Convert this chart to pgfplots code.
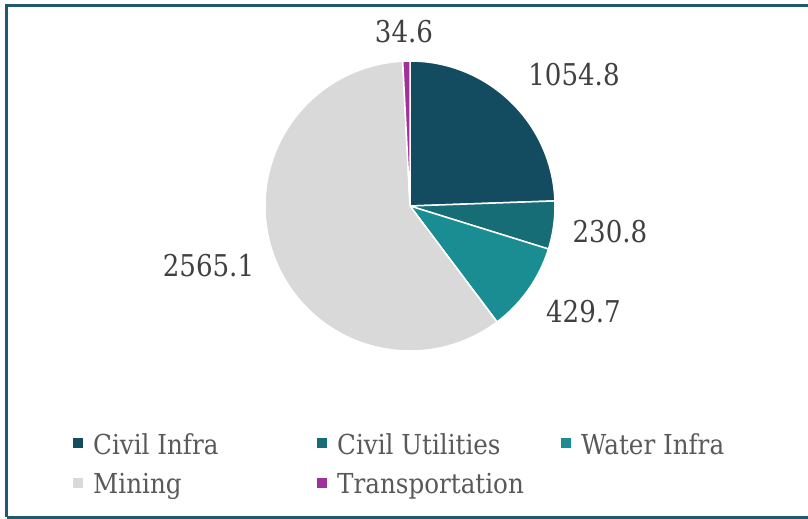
\documentclass[border=0pt]{standalone}
\usepackage{pgfplots}
\pgfplotsset{compat=1.18}
\usepackage{pgfplotstable}
\usepackage{fontspec}
\setmainfont{DejaVu Serif}[FakeStretch=0.87]
\newfontfamily\legfont{DejaVu Serif}[FakeStretch=0.895]

\definecolor{cA}{HTML}{134B61}
\definecolor{cB}{HTML}{166D75}
\definecolor{cC}{HTML}{1A8D93}
\definecolor{cD}{HTML}{D9D9D9}
\definecolor{cE}{HTML}{A0309A}
\definecolor{framec}{HTML}{1E5A6E}
\definecolor{lblc}{HTML}{404040}
\definecolor{legc}{HTML}{595959}

% name, value, slice colour, label centre (pixel x, pixel y from top)
\pgfplotstableread[col sep=comma]{
name,value,color,lx,ly
Civil Infra,1054.8,cA,574,75
Civil Utilities,230.8,cB,610,232
Water Infra,429.7,cC,583.5,311.5
Mining,2565.1,cD,208.5,266
Transportation,34.6,cE,404,32
}\piedata

\begin{document}
\begin{tikzpicture}
\useasboundingbox (0,0) rectangle (808pt,519pt);
% cumulative sums -> angles (clockwise from 12 o'clock)
\def\cum{0}
\pgfplotsforeachungrouped \i in {0,...,4}{%
  \pgfplotstablegetelem{\i}{value}\of\piedata
  \pgfmathsetmacro{\cum}{\cum+\pgfplotsretval}%
}%
\let\total\cum
\def\cum{0}
\pgfplotsforeachungrouped \i in {0,...,4}{%
  \pgfplotstablegetelem{\i}{value}\of\piedata
  \expandafter\xdef\csname pieV\i\endcsname{\pgfplotsretval}%
  \pgfmathsetmacro{\s}{90-360*(\cum/\total)}%
  \pgfmathsetmacro{\cum}{\cum+\pgfplotsretval}%
  \pgfmathsetmacro{\e}{90-360*(\cum/\total)}%
  \expandafter\xdef\csname pieS\i\endcsname{\s}%
  \expandafter\xdef\csname pieE\i\endcsname{\e}%
  \pgfplotstablegetelem{\i}{color}\of\piedata
  \colorlet{slice\i}{\pgfplotsretval}%
  \pgfplotstablegetelem{\i}{name}\of\piedata
  \expandafter\xdef\csname pieN\i\endcsname{\pgfplotsretval}%
  \pgfplotstablegetelem{\i}{lx}\of\piedata
  \expandafter\xdef\csname pieX\i\endcsname{\pgfplotsretval}%
  \pgfplotstablegetelem{\i}{ly}\of\piedata
  \pgfmathsetmacro{\ly}{519-\pgfplotsretval}%
  \expandafter\xdef\csname pieY\i\endcsname{\ly}%
  \pgfmathsetmacro{\gx}{78+244*mod(\i,3)}%
  \pgfmathsetmacro{\gy}{519-(443+40.5*floor(\i/3))}%
  \pgfmathsetmacro{\gb}{519-(455+39*floor(\i/3))}%
  \expandafter\xdef\csname legX\i\endcsname{\gx}%
  \expandafter\xdef\csname legY\i\endcsname{\gy}%
  \expandafter\xdef\csname legB\i\endcsname{\gb}%
}%
\begin{axis}[
  at={(0,0)}, anchor=origin,
  x=1pt, y=1pt,
  xmin=0, xmax=808, ymin=0, ymax=519,
  hide axis, clip=false,
]
\addplot[draw=none, forget plot] coordinates {(0,0) (808,519)};
\pgfplotsinvokeforeach{0,...,4}{
  \fill[slice#1, draw=white, line width=1.5pt, line join=round]
    (axis cs:410,313) -- ([shift={(\csname pieS#1\endcsname:145pt)}]axis cs:410,313)
    arc[start angle=\csname pieS#1\endcsname, end angle=\csname pieE#1\endcsname, radius=145pt] -- cycle;
  \node[text=lblc, inner sep=0pt, font=\fontsize{30}{34}\selectfont]
    at (axis cs:\csname pieX#1\endcsname,\csname pieY#1\endcsname) {\csname pieV#1\endcsname};
  \fill[slice#1] ([shift={(-5pt,-5pt)}]axis cs:\csname legX#1\endcsname,\csname legY#1\endcsname)
    rectangle ++(10pt,10pt);
  \node[text=legc, inner sep=0pt, anchor=base west, font=\legfont\fontsize{27.5}{32}\selectfont]
    at ([shift={(15pt,0pt)}]axis cs:\csname legX#1\endcsname,\csname legB#1\endcsname)
    {\csname pieN#1\endcsname};
}
\end{axis}
\draw[framec, line width=3pt] (6.5pt,1.5pt) -- (6.5pt,513.5pt) -- (812pt,513.5pt);
\draw[framec, line width=3pt] (6.5pt,1.5pt) -- (812pt,1.5pt);
\end{tikzpicture}
\end{document}
